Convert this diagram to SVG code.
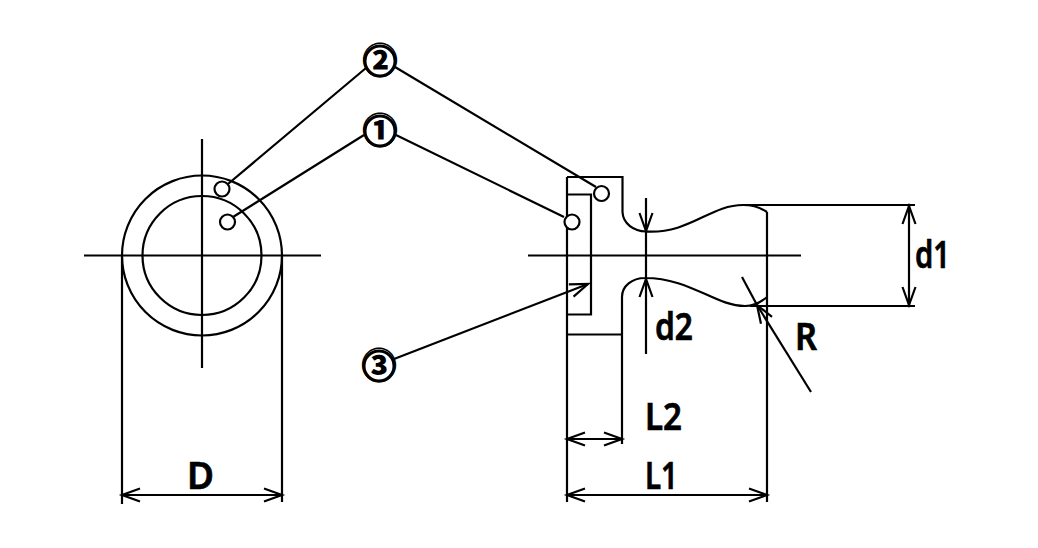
<svg xmlns="http://www.w3.org/2000/svg" width="1038" height="548" viewBox="0 0 1038 548">
<style>
.l{fill:none;stroke:#000;stroke-width:2.200}
.c{fill:#fff;stroke:#000;stroke-width:2.200}
.r{fill:none;stroke:#000;stroke-width:3}
.t{font-family:"Noto Sans","Liberation Sans",sans-serif;font-weight:600;font-size:38px;fill:#000;stroke:#000;stroke-width:.7}
.n{font-family:"Noto Sans CJK JP",sans-serif;font-weight:900;font-size:36px;fill:#000;text-anchor:middle}
.a{marker-end:url(#h)}
.b{marker-start:url(#s);marker-end:url(#h)}
</style>
<defs>
<marker id="h" markerUnits="userSpaceOnUse" markerWidth="22" markerHeight="18" refX="19" refY="9" orient="auto" overflow="visible"><path d="M1 2.500L19 9L1 15.500" fill="none" stroke="#000" stroke-width="2.200"/></marker>
<marker id="s" markerUnits="userSpaceOnUse" markerWidth="22" markerHeight="18" refX="1" refY="9" orient="auto" overflow="visible"><path d="M19 2.500L1 9L19 15.500" fill="none" stroke="#000" stroke-width="2.200"/></marker>
</defs>
<g id="front-view">
<circle class="l" cx="202" cy="255.500" r="80"/>
<circle class="l" cx="202" cy="255.500" r="59.500"/>
<path class="l" d="M84 255.500H321M202 139V368M122 255V504M282 255V502"/>
</g>
<g id="side-view">
<path class="l" d="M567 177H622.500V212C623 224 634 231 646 231.500C690 234 710 205 743 205C753 205 761 208 767 212M567 177V502M567 194.500H591V314.500H567M567 334.500H622M622 444V297C622 286 632 278 645 278C690 278 715 306 745 306C753 306 761 302 767 297M767 212V502M743 205H915M750 306H915M528 255.500H801M646 231V278"/>
</g>
<g id="connectors">
<path class="l" d="M366 68L228 184M364 135L233 217M395 67L596 187M396 135L564 217"/>
<path class="l a" d="M394 359L588 284"/>
<path class="l a" d="M646 198V231"/>
<path class="l a" d="M646 354V279"/>
<path class="l a" d="M811 392L757 305"/>
<path class="l" d="M742 277L757 305"/>
<path class="l b" d="M909 206V305"/>
<path class="l b" d="M122 495H282"/>
<path class="l b" d="M567 495H767"/>
<path class="l b" d="M567 439H622"/>
</g>
<g id="hole-1a"><circle class="c" cx="227.500" cy="222" r="7.500"/></g>
<g id="hole-2a"><circle class="c" cx="222" cy="189" r="7.500"/></g>
<g id="hole-1b"><circle class="c" cx="572" cy="222" r="7.500"/></g>
<g id="hole-2b"><circle class="c" cx="601.500" cy="193.500" r="7.500"/></g>
<g id="label-2"><circle cx="380" cy="61" r="15.500" fill="#fff"/><text class="n" x="380" y="74">②</text><circle class="r" cx="380" cy="61" r="15"/></g>
<g id="label-1"><circle cx="380" cy="131" r="15.500" fill="#fff"/><text class="n" x="380" y="144">①</text><circle class="r" cx="380" cy="131" r="15"/></g>
<g id="label-3"><circle cx="379" cy="366" r="15.500" fill="#fff"/><text class="n" x="379" y="379">③</text><circle class="r" cx="379" cy="366" r="15"/></g>
<g id="dims">
<text class="t" x="915" y="268" textLength="35" lengthAdjust="spacingAndGlyphs">d1</text>
<text class="t" x="655" y="340" textLength="38" lengthAdjust="spacingAndGlyphs">d2</text>
<text class="t" x="795" y="350" textLength="22" lengthAdjust="spacingAndGlyphs">R</text>
<text class="t" x="645" y="430" textLength="37" lengthAdjust="spacingAndGlyphs">L2</text>
<text class="t" x="645" y="489" textLength="33" lengthAdjust="spacingAndGlyphs">L1</text>
<text class="t" x="187" y="489" textLength="27" lengthAdjust="spacingAndGlyphs">D</text>
</g>
</svg>
